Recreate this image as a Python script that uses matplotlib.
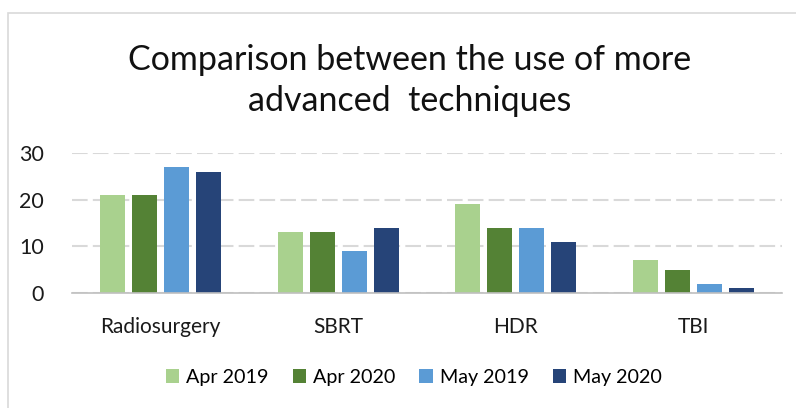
import numpy as np
import matplotlib
matplotlib.use('Agg')
import matplotlib.pyplot as plt
from matplotlib.patches import Rectangle

plt.rcParams['font.family'] = ['Lato', 'DejaVu Sans']

categories = ['Radiosurgery', 'SBRT', 'HDR', 'TBI']
series_names = ['Apr 2019', 'Apr 2020', 'May 2019', 'May 2020']
apr_2019 = [21, 13, 19, 7]
apr_2020 = [21, 13, 14, 5]
may_2019 = [27, 9, 14, 2]
may_2020 = [26, 14, 11, 1]
colors = ['#A9D18E', '#548235', '#5B9BD5', '#264478']

fig = plt.figure(figsize=(7.96, 4.08), dpi=100)
ax = fig.add_axes([72 / 796, 1 - 293 / 408, 710 / 796, 140 / 408])

# outer chart frame
fig.patches.append(Rectangle((8 / 796, -0.1), 1.2, 1.1 - 13 / 408, transform=fig.transFigure,
                             fill=False, edgecolor='#D9D9D9', linewidth=1.2))

x = np.arange(len(categories))
width = 0.141
step = 0.18
for i, (vals, name) in enumerate(zip([apr_2019, apr_2020, may_2019, may_2020], series_names)):
    ax.bar(x + (i - 1.5) * step, vals, width, color=colors[i], label=name, zorder=3)

ax.set_xlim(-0.5, 3.5)
ax.set_ylim(0, 30)
ax.set_yticks([0, 10, 20, 30])
ax.yaxis.grid(True, linestyle=(0, (7.5, 2.5)), color='#D9D9D9', linewidth=1.5, zorder=0)
ax.set_axisbelow(True)
for s in ['top', 'right', 'left']:
    ax.spines[s].set_visible(False)
ax.spines['bottom'].set_color('#BFBFBF')
ax.spines['bottom'].set_linewidth(1.2)
ax.spines['bottom'].set_zorder(4)
ax.tick_params(axis='y', length=0, pad=20, labelsize=15.5, labelcolor='#1A1A1A')
ax.tick_params(axis='x', length=0, pad=17, labelsize=15, labelcolor='#1A1A1A')
ax.set_xticks(x)
ax.set_xticklabels(categories)

fig.text(0.515, 1 - 60 / 408, 'Comparison between the use of more', ha='center', va='center',
         fontsize=24.5, color='#111111')
fig.text(0.515, 1 - 101 / 408, 'advanced  techniques', ha='center', va='center',
         fontsize=24.5, color='#111111')

fig.legend(loc='center', bbox_to_anchor=(0.52, 1 - 377 / 408), ncol=4, frameon=False,
           fontsize=14.2, handlelength=0.7, handleheight=0.7, handletextpad=0.35,
           columnspacing=1.2)

fig.savefig('out.png', dpi=100)
